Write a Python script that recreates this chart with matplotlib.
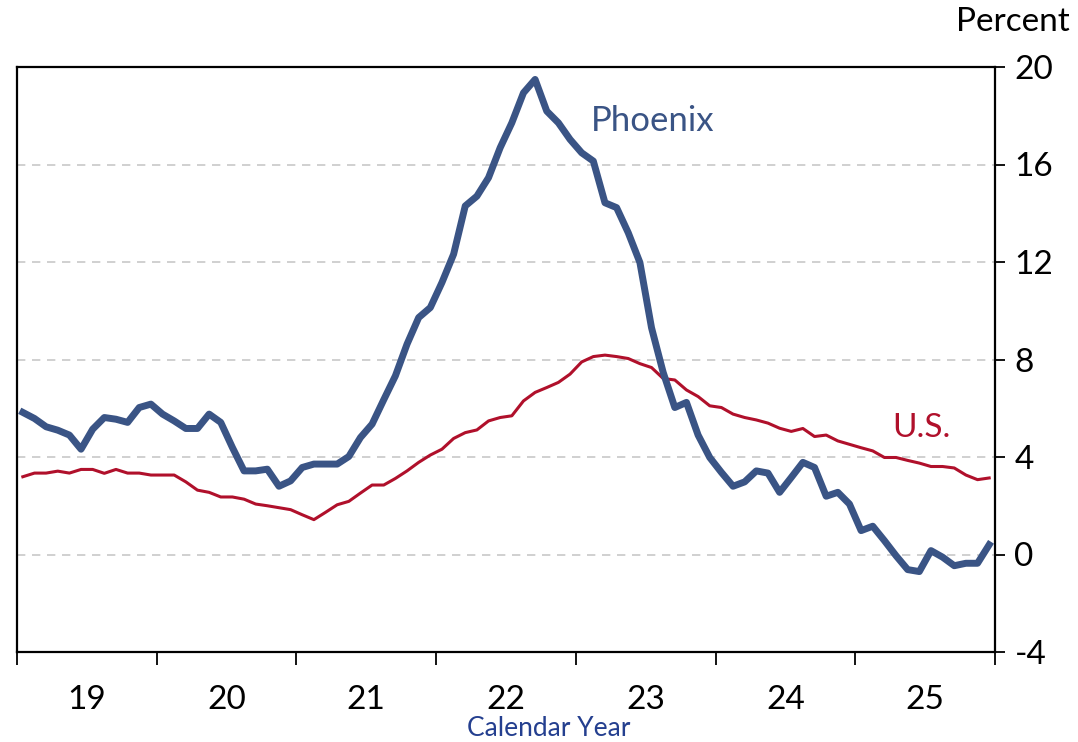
import numpy as np
import matplotlib
matplotlib.use("Agg")
import matplotlib.pyplot as plt

plt.rcParams['font.family'] = ['Lato', 'DejaVu Sans']

# monthly year-over-year percent change, Jan 2019 onward
phoenix = [5.83, 5.58, 5.24, 5.10, 4.90, 4.32, 5.14, 5.62, 5.55, 5.42, 6.03, 6.17,
           5.76, 5.48, 5.17, 5.17, 5.76, 5.42, 4.39, 3.43, 3.43, 3.50, 2.80, 3.02,
           3.57, 3.71, 3.71, 3.71, 4.02, 4.80, 5.35, 6.35, 7.33, 8.63, 9.72, 10.13,
           11.16, 12.32, 14.30, 14.70, 15.46, 16.69, 17.71, 18.94, 19.49, 18.19, 17.71, 17.03,
           16.48, 16.14, 14.43, 14.23, 13.20, 11.98, 9.30, 7.47, 6.03, 6.24, 4.90, 3.98,
           3.37, 2.80, 2.98, 3.43, 3.34, 2.55, 3.16, 3.78, 3.57, 2.39, 2.55, 2.07,
           0.98, 1.16, 0.57, -0.05, -0.62, -0.70, 0.16, -0.11, -0.46, -0.36, -0.36, 0.40]
us = [3.19, 3.34, 3.34, 3.42, 3.34, 3.49, 3.49, 3.33, 3.49, 3.34, 3.34, 3.26,
      3.26, 3.26, 2.98, 2.64, 2.55, 2.36, 2.36, 2.27, 2.07, 2.00, 1.92, 1.84,
      1.63, 1.43, 1.73, 2.04, 2.18, 2.52, 2.85, 2.85, 3.12, 3.43, 3.78, 4.08,
      4.32, 4.76, 5.00, 5.11, 5.48, 5.62, 5.69, 6.30, 6.65, 6.85, 7.06, 7.40,
      7.90, 8.12, 8.18, 8.12, 8.04, 7.83, 7.67, 7.22, 7.16, 6.75, 6.48, 6.10,
      6.03, 5.76, 5.62, 5.52, 5.39, 5.18, 5.05, 5.17, 4.84, 4.90, 4.66, 4.52,
      4.38, 4.25, 3.98, 3.98, 3.86, 3.75, 3.61, 3.61, 3.55, 3.26, 3.07, 3.14]
years = ['19', '20', '21', '22', '23', '24', '25']
yticks = [-4, 0, 4, 8, 12, 16, 20]

blue = '#3A5485'
red = '#B0102B'

x = np.arange(len(phoenix)) + 0.5

fig = plt.figure(figsize=(10.78, 7.42), dpi=100)
ax = fig.add_axes([17/1078, 1 - 652/742, (995 - 17)/1078, (652 - 67)/742])

for v in yticks[1:-1]:
    ax.axhline(v, color='#c8c8c8', lw=1.2, ls=(0, (5, 4)), zorder=0)

ax.plot(x, us, color=red, lw=2.2, zorder=2)
ax.plot(x, phoenix, color=blue, lw=5, zorder=3, solid_joinstyle='round')

ax.set_xlim(0, 84)
ax.set_ylim(-4, 20)

ax.yaxis.tick_right()
ax.set_yticks(yticks)
ax.set_yticklabels([str(v) for v in yticks])
ax.tick_params(axis='y', direction='out', length=7, width=1.3, pad=7, labelsize=24)

ax.set_xticks(np.arange(0, 85, 12))
ax.set_xticklabels([])
ax.set_xticks(np.arange(6, 84, 12), minor=True)
ax.set_xticklabels(years, minor=True)
ax.tick_params(axis='x', which='major', direction='out', length=9, width=1.3)
ax.tick_params(axis='x', which='minor', length=0, pad=24, labelsize=24)

for s in ax.spines.values():
    s.set_linewidth(1.6)

ax.text(49.3, 17.8, 'Phoenix', color=blue, fontsize=25, va='center', ha='left')
ax.text(75.2, 5.2, 'U.S.', color=red, fontsize=24, va='center', ha='left')

fig.text(1070/1078, 1 - 22/742, 'Percent', fontsize=24, ha='right', va='center')
fig.text(549/1078, 1 - 728/742, 'Calendar Year', fontsize=19, color='#243F8F',
         ha='center', va='center')

fig.savefig('out.png', dpi=100)
